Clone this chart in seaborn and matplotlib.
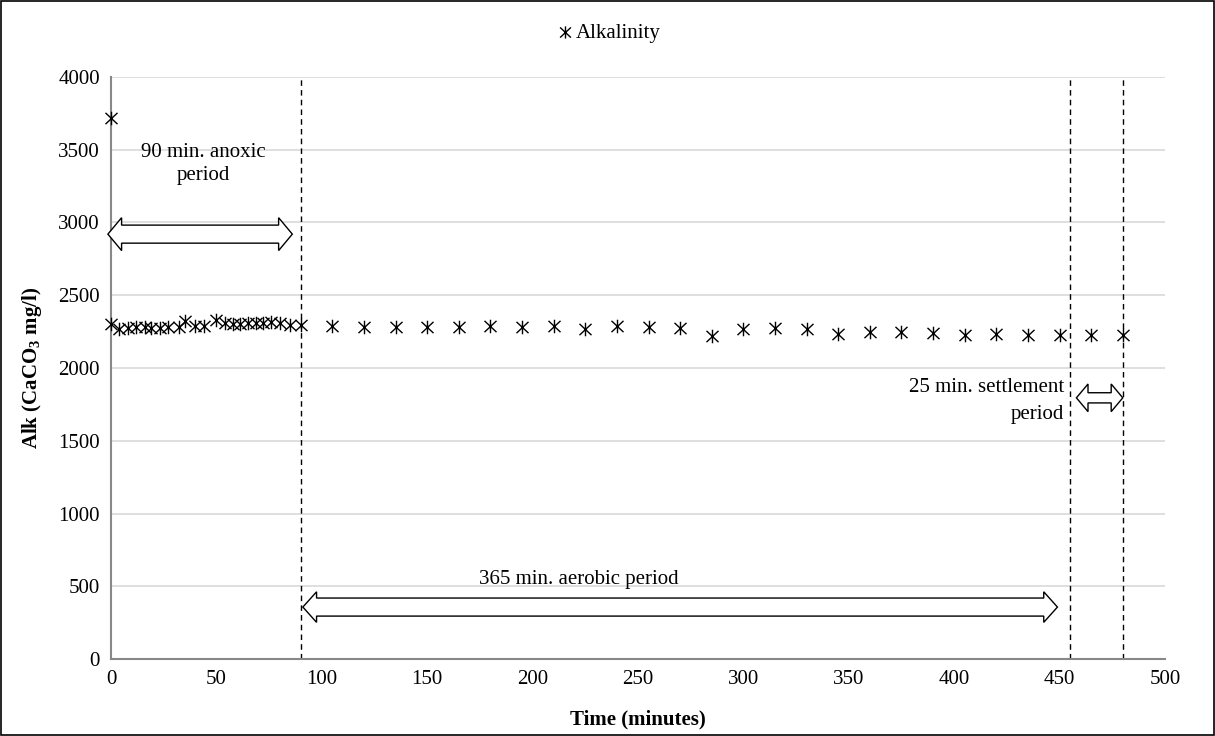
import matplotlib.pyplot as plt
import seaborn as sns
from matplotlib.patches import Polygon, Rectangle
from matplotlib.path import Path

# data
time_min = [0, 0, 4, 8, 12, 16, 19, 23, 27, 32, 35, 40, 44, 50, 54, 58, 61, 65, 69, 72, 76, 80, 85, 90,
            105, 120, 135, 150, 165, 180, 195, 210, 225, 240, 255, 270, 285, 300, 315, 330,
            345, 360, 375, 390, 405, 420, 435, 450, 465, 480]
alk = [3720, 2300, 2265, 2275, 2280, 2280, 2275, 2275, 2280, 2280, 2325, 2290, 2290, 2330, 2310, 2305,
       2300, 2310, 2310, 2310, 2315, 2310, 2295, 2295,
       2290, 2285, 2280, 2280, 2285, 2290, 2285, 2290, 2270, 2290, 2285, 2275, 2220, 2270, 2275, 2265,
       2235, 2245, 2245, 2240, 2230, 2235, 2230, 2225, 2230, 2225]
phase_lines = [90, 455, 480]

sns.set_style('white')
plt.rcParams['font.family'] = ['Liberation Serif', 'DejaVu Serif']
plt.rcParams['mathtext.default'] = 'regular'
for k in ['text.color', 'axes.labelcolor', 'xtick.color', 'ytick.color']:
    plt.rcParams[k] = 'black'

# asterisk: vertical bar plus an X
star = Path([(0, -0.9), (0, 0.9), (-0.8, -0.75), (0.8, 0.75), (-0.8, 0.75), (0.8, -0.75)],
            [Path.MOVETO, Path.LINETO] * 3)

fig = plt.figure(figsize=(12.15, 7.36), dpi=100)
ax = fig.add_axes([0.0914, 0.1046, 0.8674, 0.7908])

ax.yaxis.grid(True, color='#d9d9d9', lw=1.2, zorder=0)
ax.set_axisbelow(True)

sns.scatterplot(x=time_min, y=alk, marker=star, color='black', edgecolor='black', s=95, linewidth=1,
                label='Alkalinity', ax=ax, zorder=3, clip_on=False)

for x in phase_lines:
    ax.axvline(x, color='black', ls=(0, (4, 3)), lw=1, zorder=2)

ax.set_xlim(0, 500)
ax.set_ylim(0, 4000)
ax.set_xticks(range(0, 501, 50))
ax.set_yticks(range(0, 4001, 500))
ax.tick_params(length=0, labelsize=15, pad=8)
for s in ['top', 'right']:
    ax.spines[s].set_visible(False)
for s in ['left', 'bottom']:
    ax.spines[s].set_color('#888888')
    ax.spines[s].set_linewidth(1.5)

ax.set_xlabel('Time (minutes)', fontsize=15, fontweight='bold', labelpad=15)
ax.set_ylabel('Alk (CaCO$_3$ mg/l)', fontsize=15, fontweight='bold', labelpad=10)

# hollow double arrows
def darrow(x0, x1, y, shaft, head, hlen):
    pts = [(x0, y), (x0 + hlen, y + head), (x0 + hlen, y + shaft), (x1 - hlen, y + shaft),
           (x1 - hlen, y + head), (x1, y), (x1 - hlen, y - head), (x1 - hlen, y - shaft),
           (x0 + hlen, y - shaft), (x0 + hlen, y - head)]
    ax.add_patch(Polygon(pts, closed=True, fc='white', ec='black', lw=1, zorder=4, clip_on=False))

darrow(-1.5, 86, 2920, 62, 113, 6.5)
darrow(91, 449, 357, 62, 105, 6.5)
darrow(458, 480, 1795, 35, 95, 5.5)

ax.text(44, 3400, '90 min. anoxic\nperiod', ha='center', va='center', fontsize=15, linespacing=1.3)
ax.text(222, 545, '365 min. aerobic period', ha='center', va='center', fontsize=15)
ax.text(452, 1775, '25 min. settlement\nperiod', ha='right', va='center', fontsize=15, linespacing=1.6)

ax.legend(loc='center', bbox_to_anchor=(0.5, 0.955), bbox_transform=fig.transFigure,
          frameon=False, fontsize=15, handletextpad=0.0, handlelength=1.0, markerscale=0.9)

fig.patches.append(Rectangle((0.001, 0.001), 0.998, 0.997, transform=fig.transFigure,
                             fill=False, ec='black', lw=1.2))

fig.savefig('out.png', dpi=100)
